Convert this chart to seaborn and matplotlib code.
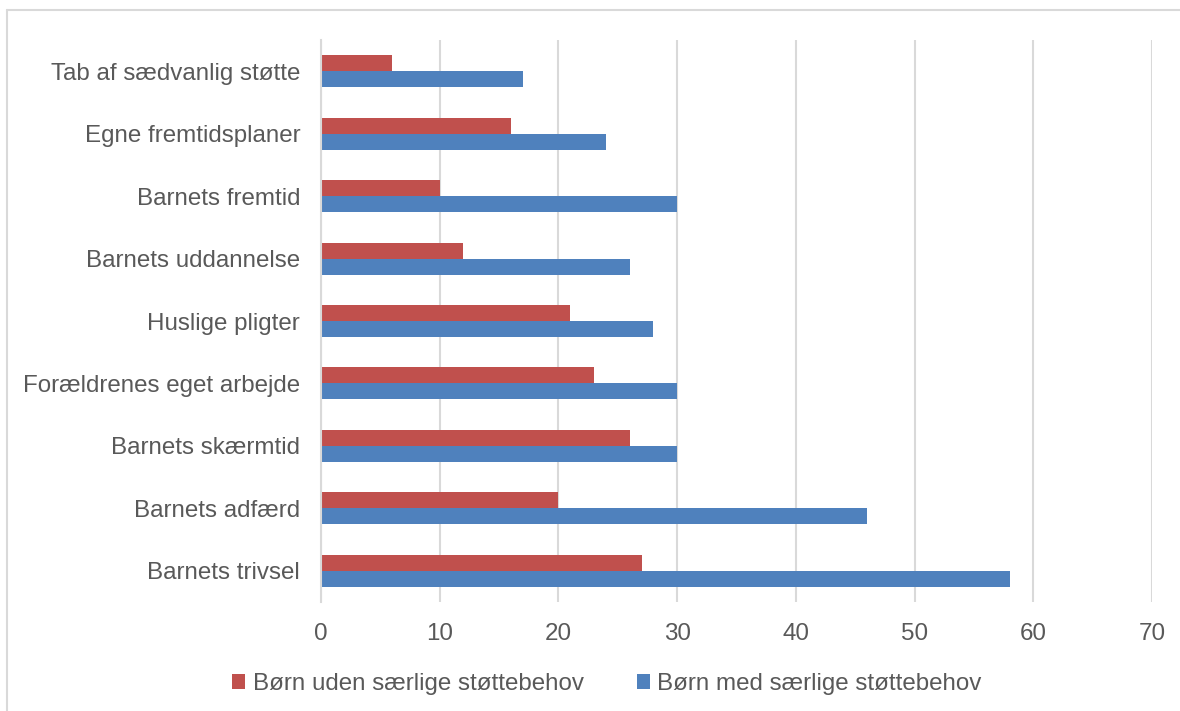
import matplotlib
matplotlib.use("Agg")
import matplotlib.pyplot as plt
from matplotlib.lines import Line2D
from matplotlib.patches import Patch
import seaborn as sns
import pandas as pd

categories = [
    "Tab af sædvanlig støtte",
    "Egne fremtidsplaner",
    "Barnets fremtid",
    "Barnets uddannelse",
    "Huslige pligter",
    "Forældrenes eget arbejde",
    "Barnets skærmtid",
    "Barnets adfærd",
    "Barnets trivsel",
]
series_names = ["Børn uden særlige støttebehov", "Børn med særlige støttebehov"]
uden_values = [6, 16, 10, 12, 21, 23, 26, 20, 27]
med_values = [17, 24, 30, 26, 28, 30, 30, 46, 58]
x_ticks = [0, 10, 20, 30, 40, 50, 60, 70]
colors = ["#C0504D", "#4F81BD"]

df = pd.DataFrame({
    "kategori": categories * 2,
    "værdi": uden_values + med_values,
    "gruppe": [series_names[0]] * len(categories) + [series_names[1]] * len(categories),
})

sns.set_theme(style="white")
plt.rcParams["font.family"] = ["Liberation Sans", "DejaVu Sans"]
text_color = "#595959"
grid_color = "#D9D9D9"
fs = 17.4

fig = plt.figure(figsize=(11.8, 7.11), dpi=100)
ax = fig.add_axes([321 / 1180, 1 - 602 / 711, (1152 - 321) / 1180, (602 - 40) / 711])

sns.barplot(
    data=df, y="kategori", x="værdi", hue="gruppe", hue_order=series_names,
    order=categories, palette=colors, orient="h", width=0.513, gap=0,
    saturation=1, ax=ax, legend=False, edgecolor="none", linewidth=0,
)

ax.set_xlim(0, 70)
ax.set_xticks(x_ticks)
ax.set_xticklabels([str(t) for t in x_ticks])
ax.set_xlabel("")
ax.set_ylabel("")
ax.xaxis.grid(True, color=grid_color, linewidth=1.5)
ax.yaxis.grid(False)
ax.set_axisbelow(True)
for s in ["top", "right", "bottom"]:
    ax.spines[s].set_visible(False)
ax.spines["left"].set_color(grid_color)
ax.spines["left"].set_linewidth(1.5)
ax.tick_params(axis="x", length=0, pad=15, labelsize=fs, labelcolor=text_color)
ax.tick_params(axis="y", length=0, pad=15, labelsize=fs, labelcolor=text_color)

# outer chart frame (top and left edges visible)
fig.add_artist(Line2D([7 / 1180, 1.0], [1 - 10 / 711, 1 - 10 / 711], color=grid_color, linewidth=1.5))
fig.add_artist(Line2D([7 / 1180, 7 / 1180], [0.0, 1 - 10 / 711], color=grid_color, linewidth=1.5))

handles = [Patch(facecolor=c, edgecolor="none") for c in colors]
fig.legend(
    handles, series_names, loc="center", bbox_to_anchor=(607 / 1180, 1 - 684 / 711),
    ncol=2, frameon=False, fontsize=fs, labelcolor=text_color,
    handlelength=0.55, handleheight=0.55, handletextpad=0.3, columnspacing=2.2,
)

fig.savefig("out.png", dpi=100)
